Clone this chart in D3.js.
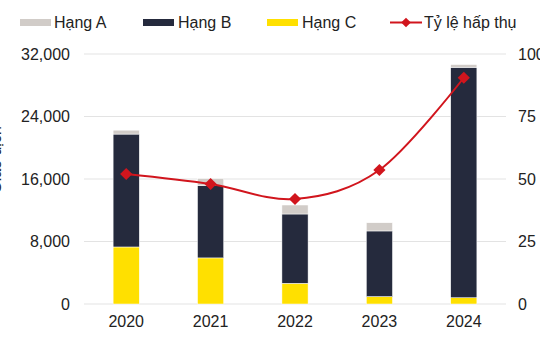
<!DOCTYPE html>
<html><head><meta charset="utf-8">
<script src="https://cdn.jsdelivr.net/npm/d3@7"></script>
<style>body{margin:0;background:#fff}svg{display:block;font-family:"Liberation Sans",Arial,sans-serif}</style>
</head><body>
<svg id="c" width="540" height="360"></svg>
<script>
const years = ["2020","2021","2022","2023","2024"];
const hangC = [7300, 5900, 2650, 950, 800];
const hangB = [14450, 9250, 8870, 8400, 29500];
const hangA = [500, 900, 1150, 1050, 350];
const tyLe = [52, 48, 42, 53.6, 90.5];
const leftTicks = [0, 8000, 16000, 24000, 32000];
const rightTicks = [0, 25, 50, 75, 100];
const seriesNames = ["Hạng A", "Hạng B", "Hạng C", "Tỷ lệ hấp thụ"];

const colors = {A:"#d1ccc8", B:"#252a3d", C:"#ffe000", line:"#d1151d"};
const svg = d3.select("#c");
const m = {l:84, r:506, t:54, b:304};
const x = d3.scaleBand().domain(years).range([m.l, m.r]).paddingInner(0.69).paddingOuter(0.345);
const y = d3.scaleLinear().domain([0, 32000]).range([m.b, m.t]);
const y2 = d3.scaleLinear().domain([0, 100]).range([m.b, m.t]);

// grid
svg.append("g").selectAll("line").data(leftTicks).join("line")
  .attr("x1", m.l).attr("x2", m.r).attr("y1", d=>y(d)).attr("y2", d=>y(d))
  .attr("stroke", "#e3e3e3").attr("stroke-width", 1.2);

// left axis
const ya = d3.axisLeft(y).tickValues(leftTicks).tickFormat(d3.format(",")).tickSize(0).tickPadding(0);
svg.append("g").attr("transform", `translate(70,0)`).call(ya)
  .call(g=>g.select(".domain").remove())
  .selectAll("text").attr("font-size", 16).attr("fill", "#222").attr("font-family", "Liberation Sans, Arial, sans-serif");

// right axis
const ya2 = d3.axisRight(y2).tickValues(rightTicks).tickSize(0).tickPadding(0);
svg.append("g").attr("transform", `translate(518,0)`).call(ya2)
  .call(g=>g.select(".domain").remove())
  .selectAll("text").attr("font-size", 16).attr("fill", "#222").attr("font-family", "Liberation Sans, Arial, sans-serif");

// x axis
const xa = d3.axisBottom(x).tickSize(0).tickPadding(0);
svg.append("g").attr("transform", `translate(0,${m.b+12})`).call(xa)
  .call(g=>g.select(".domain").remove())
  .selectAll("text").attr("font-size", 16).attr("fill", "#222").attr("font-family", "Liberation Sans, Arial, sans-serif");

// y title (cut off)
svg.append("text").attr("transform", "translate(1,160) rotate(-90)")
  .attr("text-anchor", "middle").attr("font-size", 16).attr("fill", "#222").text("Giao dịch");

// stacked bars
const rows = years.map((yr,i)=>({year:yr, C:hangC[i], B:hangB[i], A:hangA[i]}));
const stack = d3.stack().keys(["C","B","A"])(rows);
svg.append("g").selectAll("g").data(stack).join("g").attr("fill", d=>colors[d.key])
  .selectAll("rect").data(d=>d).join("rect")
  .attr("x", d=>x(d.data.year)).attr("width", x.bandwidth())
  .attr("y", d=>y(d[1])).attr("height", d=>y(d[0])-y(d[1]))
  .attr("stroke", "#fff").attr("stroke-width", 0.5);

// line
const line = d3.line().x((d,i)=>x(years[i])+x.bandwidth()/2).y(d=>y2(d)).curve(d3.curveCardinal.tension(0));
svg.append("path").datum(tyLe).attr("d", line).attr("fill","none").attr("stroke", colors.line).attr("stroke-width", 2);
const diamond = d3.symbol().type(d3.symbolDiamond2).size(95);
svg.append("g").selectAll("path").data(tyLe).join("path")
  .attr("d", diamond)
  .attr("transform", (d,i)=>`translate(${x(years[i])+x.bandwidth()/2},${y2(d)})`)
  .attr("fill", colors.line);

// legend
const lg = svg.append("g").attr("font-size", 16).attr("fill", "#222");
const legItems = [
  {name:seriesNames[0], c:colors.A, sx:20, tx:54},
  {name:seriesNames[1], c:colors.B, sx:143, tx:178},
  {name:seriesNames[2], c:colors.C, sx:267, tx:302}
];
legItems.forEach(it=>{
  lg.append("rect").attr("x", it.sx).attr("y", 19).attr("width", 31).attr("height", 7).attr("fill", it.c);
  lg.append("text").attr("x", it.tx).attr("y", 28).text(it.name);
});
lg.append("line").attr("x1", 390).attr("x2", 422).attr("y1", 22.5).attr("y2", 22.5).attr("stroke", colors.line).attr("stroke-width", 2);
lg.append("path").attr("d", d3.symbol().type(d3.symbolDiamond2).size(60)).attr("transform","translate(406,22.5)").attr("fill", colors.line);
lg.append("text").attr("x", 424).attr("y", 28).text(seriesNames[3]);
</script>
</body></html>
